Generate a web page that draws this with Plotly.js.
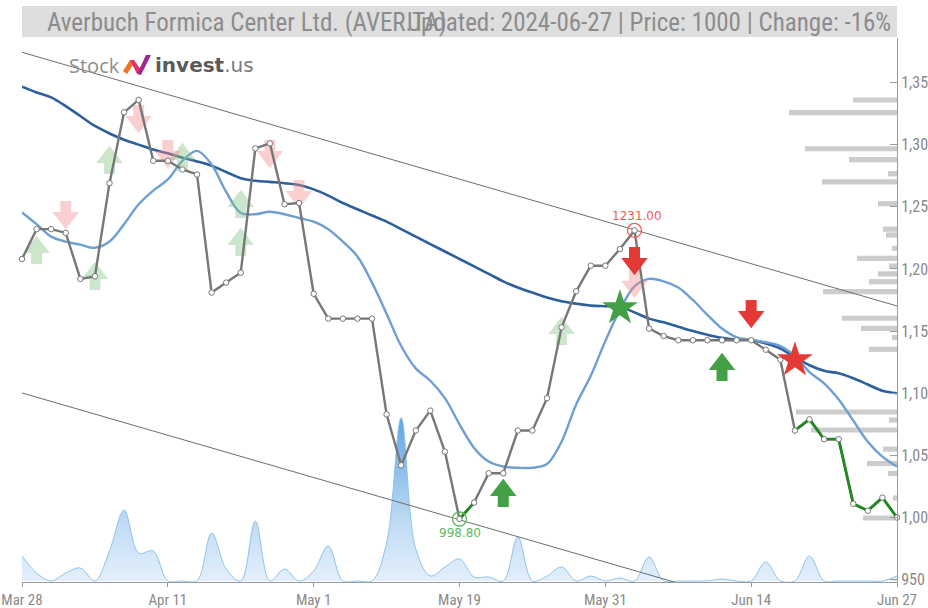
<!DOCTYPE html>
<html><head><meta charset="utf-8">
<script src="https://cdn.plot.ly/plotly-3.0.1.min.js"></script>
<style>html,body{margin:0;padding:0;background:#fff;}#chart{width:928px;height:608px;}</style>
</head><body><div id="chart"></div>
<script>
// ---------- data ----------
const tickLabels = ['Mar 28','Apr 11','May 1','May 19','May 31','Jun 14','Jun 27'];
const closes = [1208,1232,1232,1229,1192,1194,1269,1326,1336,1287,
  1287,1280,1276,1181,1189,1197,1297,1301,1252,1253,
  1180,1160,1160,1160,1160,1083,1042,1070,1086,1053,
  998.8,1012,1035.6,1035.6,1070,1070,1096,1153,1182,1202.6,
  1202.6,1216,1231,1152,1146,1142.6,1142.6,1142.6,1142.6,1142.6,
  1142.6,1135,1127,1070,1079,1063,1063,1011,1005.5,1016,1000];
const maShort = [1245.5,1236,1226,1222,1219.5,1217,1222,1236,1252,1263,
  1272,1287,1295,1284,1262,1245,1244,1246,1244,1241,
  1238,1232,1222,1210,1189,1164,1138,1120,1110,1096,
  1075,1056,1045,1041,1040,1040,1043,1061,1091,1114,
  1142,1167,1186,1192,1190,1185,1175,1163,1152,1145,
  1143,1141,1138,1130,1117,1108,1095,1078,1061,1049,1041];
const maLong = [1346.6,1342,1338,1331,1323,1315,1309,1304,1300,1296,
  1293,1289.5,1286.5,1283,1278,1273,1271,1270,1269,1267.5,
  1264,1259,1253,1248,1243,1238,1232,1226,1220,1214,
  1208,1202,1196,1190,1185,1181,1177,1174,1172,1170.5,
  1170,1169.5,1165,1160,1157,1153.5,1150,1147,1144.5,1143,
  1142.8,1140,1136,1129,1122.5,1118,1116,1112,1107,1102,1100];
const volume = [25,8,0,8,13,0,30,71,28,30,
  0,0,0,48,12,0,60,0,12,0,
  10,35,0,0,0,38,163,32,5,14,
  22,4,4,0,44,0,5,14,0,5,
  0,3,0,24,0,0,0,0,2,0,
  0,19,0,0,25,0,0,0,0,0,5];
const profilePrice = [1335.9,1325.8,1296.7,1288,1276.6,1270,1252.5,1232,1227.3,1216.6,
  1208.5,1202.3,1196,1189.7,1181.7,1160.3,1152.2,1144.8,1135.3,1084.9,
  1078.4,1070.4,1055,1043.4,1035.4,1015.7,999.6];
const profileVolume = [44,108,92,48,9,75,19,14,11,5,
  40,8,19,28,74,55,36,5,28,101,
  8,86,14,30,9,4,34];
const channelUpper = [1374.3, 1170.2];
const channelLower = [1100.2, 896.1];
const greenSegments = [[30,31],[53,60]];
const lowIdx = 30, highIdx = 42;
const fadedUpIdx = [1,5,6,11,15,15,37];
const fadedUpPrice = [1214.4,1193.5,1286.8,1289.2,1251.4,1220.8,1149.2];
const fadedDownIdx = [3,8,10,17,19,42];
const fadedDownPrice = [1244.2,1321.4,1293.3,1293.3,1261.1,1188.9];
const buyIdx = [33,48];
const buyPrice = [1018.9,1120.3];
const sellIdx = [42,50];
const sellPrice = [1207.2,1164.5];
const buyStarIdx = [41];
const buyStarPrice = [1168.5];
const sellStarIdx = [53];
const sellStarPrice = [1126.7];

// ---------- geometry ----------
const W = 928, H = 608;
const M = {l:22, r:31, t:38, b:26};
const plotW = W - M.l - M.r, plotH = H - M.t - M.b;
const n = closes.length;
const xRange = [0, n - 1];
const yRange = [948.1, 1385.8];
const volRange = [-1, plotH - 1];
const unitY = (yRange[1] - yRange[0]) / plotH;      // price units per px
const unitX = (xRange[1] - xRange[0]) / plotW;      // index units per px
const idx = closes.map((_, i) => i);
const FONT = '"Liberation Sans Narrow","Roboto Condensed","DejaVu Sans Condensed","Arial Narrow",sans-serif';

const traces = [];
// volume area (base subplot)
traces.push({x: idx, y: volume, xaxis:'x', yaxis:'y', type:'scatter', mode:'lines',
  line:{color:'#8cc3ec', width:1, shape:'spline', smoothing:1}, fill:'tozeroy',
  fillgradient:{type:'vertical', colorscale:[[0,'rgba(225,238,251,0.9)'],[0.35,'#c2dcf4'],[1,'#5ea6e2']]},
  hoverinfo:'skip', showlegend:false});
// volume profile bars
traces.push({type:'bar', orientation:'h', xaxis:'x', yaxis:'y2',
  y: profilePrice, x: profileVolume.map(v => -v * unitX), base: xRange[1],
  width: 5.2 * unitY, marker:{color:'#cccccc', line:{width:0}}, hoverinfo:'skip', showlegend:false});
// channel lines
[channelUpper, channelLower].forEach(c => traces.push({x:[xRange[0], xRange[1]], y:c, xaxis:'x', yaxis:'y2',
  mode:'lines', line:{color:'#6e6e6e', width:1}, hoverinfo:'skip', showlegend:false}));
// moving averages
traces.push({x: idx, y: maLong, xaxis:'x', yaxis:'y2', mode:'lines',
  line:{color:'#2d5f9c', width:2.6, shape:'spline', smoothing:1}, hoverinfo:'skip', showlegend:false});
traces.push({x: idx, y: maShort, xaxis:'x', yaxis:'y2', mode:'lines',
  line:{color:'#6e9fd3', width:2.4, shape:'spline', smoothing:1}, hoverinfo:'skip', showlegend:false});

function arrowTraces(ix, pr, color, dir) {
  const headOff = 3.75 * unitY * (dir === 'up' ? 1 : -1);
  const stemOff = 7.5 * unitY * (dir === 'up' ? -1 : 1);
  return [
    {x: ix, y: pr.map(p => p + stemOff), xaxis:'x', yaxis:'y2', mode:'markers', cliponaxis:false,
      marker:{symbol:'square', size:11, color:color, line:{width:0}}, hoverinfo:'skip', showlegend:false},
    {x: ix, y: pr.map(p => p + headOff), xaxis:'x', yaxis:'y2', mode:'markers', cliponaxis:false,
      marker:{symbol: dir === 'up' ? 'triangle-up' : 'triangle-down', size:23, color:color, line:{width:0}},
      hoverinfo:'skip', showlegend:false}
  ];
}
// faded signals (below price line)
traces.push(...arrowTraces(fadedUpIdx, fadedUpPrice, 'rgba(130,195,130,0.42)', 'up'));
traces.push(...arrowTraces(fadedDownIdx, fadedDownPrice, 'rgba(240,140,140,0.42)', 'down'));
// price line
traces.push({x: idx, y: closes, xaxis:'x', yaxis:'y2', mode:'lines',
  line:{color:'#777777', width:2.4}, hoverinfo:'skip', showlegend:false});
greenSegments.forEach(([a, b]) => traces.push({x: idx.slice(a, b + 1), y: closes.slice(a, b + 1),
  xaxis:'x', yaxis:'y2', mode:'lines', line:{color:'#1f8a1f', width:2.8}, hoverinfo:'skip', showlegend:false}));
traces.push({x: idx, y: closes, xaxis:'x', yaxis:'y2', mode:'markers', cliponaxis:false,
  marker:{symbol:'circle', size:5.5, color:'#ffffff', line:{color:'#777777', width:1}}, hoverinfo:'skip', showlegend:false});
// strong signals
traces.push(...arrowTraces(buyIdx, buyPrice, '#43a047', 'up'));
traces.push(...arrowTraces(sellIdx, sellPrice, '#e53935', 'down'));
traces.push({x: buyStarIdx, y: buyStarPrice, xaxis:'x', yaxis:'y2', mode:'markers',
  marker:{symbol:'star', size:27, color:'#43a047', line:{width:0}}, hoverinfo:'skip', showlegend:false});
traces.push({x: sellStarIdx, y: sellStarPrice, xaxis:'x', yaxis:'y2', mode:'markers',
  marker:{symbol:'star', size:27, color:'#e53935', line:{width:0}}, hoverinfo:'skip', showlegend:false});
// extreme circles
traces.push({x:[highIdx], y:[closes[highIdx]], xaxis:'x', yaxis:'y2', mode:'markers',
  marker:{symbol:'circle-open', size:14, color:'#f05a5a', line:{width:1.3}}, hoverinfo:'skip', showlegend:false});
traces.push({x:[lowIdx], y:[closes[lowIdx]], xaxis:'x', yaxis:'y2', mode:'markers',
  marker:{symbol:'circle-open', size:14, color:'#5cb85c', line:{width:1.3}}, hoverinfo:'skip', showlegend:false});

// ---------- logo ----------
function pxPath(pts) {
  return 'M' + pts.map(([x, y]) => (x - M.l) + ',' + (M.t - y)).join(' L') + ' Z';
}
const logoShapes = [
  {pts:[[123,71],[130,60],[134,63],[127,74]], c:'#f2711f'},
  {pts:[[130,60],[134,60],[141,70],[137,74]], c:'#e8306f'},
  {pts:[[137,74],[146,55],[151,55],[141,75]], c:'#9b2a8f'}
].map(s => ({type:'path', xref:'paper', yref:'paper', xsizemode:'pixel', ysizemode:'pixel',
  xanchor:0, yanchor:1, path: pxPath(s.pts), fillcolor:s.c, line:{width:0}}));

const px2paperX = px => (px - M.l) / plotW;
const px2paperY = py => 1 - (py - M.t) / plotH;

const layout = {
  width: W, height: H, margin: M, paper_bgcolor:'#ffffff', plot_bgcolor:'#ffffff',
  showlegend:false, font:{family:FONT, color:'#8a8a8a'},
  xaxis:{range:xRange, tickvals: tickLabels.map((_, k) => k * 10), ticktext: tickLabels,
    showgrid:false, zeroline:false, showline:true, linecolor:'#9a9a9a', linewidth:1,
    ticks:'outside', ticklen:4, tickcolor:'#9a9a9a', ticklabeloverflow:'allow',
    tickfont:{size:15, color:'#8a8a8a', family:FONT}},
  yaxis:{range:volRange, visible:false, fixedrange:true},
  yaxis2:{overlaying:'y', anchor:'x', side:'right', range:yRange, tick0:950, dtick:50, tickformat:',',
    showgrid:false, zeroline:false, showline:true, linecolor:'#9a9a9a', linewidth:1, ticklabeloverflow:'allow',
    ticks:'inside', ticklen:7, tickcolor:'#9a9a9a', tickfont:{size:16, color:'#8a8a8a', family:FONT}},
  shapes: [
    {type:'rect', xref:'paper', yref:'paper', x0:0, x1:1, y0:px2paperY(37), y1:px2paperY(6),
      fillcolor:'#dedede', line:{width:0}, layer:'below'}
  ].concat(logoShapes),
  annotations: [
    {xref:'paper', yref:'paper', x:px2paperX(45), y:px2paperY(22), xanchor:'left', yanchor:'middle',
      text:'Averbuch Formica Center Ltd. (AVER.TA)', showarrow:false, font:{size:25, color:'#8c8c8c', family:FONT}},
    {xref:'paper', yref:'paper', x:px2paperX(893), y:px2paperY(22), xanchor:'right', yanchor:'middle',
      text:'Updated: 2024-06-27 | Price: 1000 | Change: -16%', showarrow:false, font:{size:25, color:'#8c8c8c', family:FONT}},
    {xref:'paper', yref:'paper', x:px2paperX(67), y:px2paperY(65), xanchor:'left', yanchor:'middle',
      text:'Stock', showarrow:false, font:{size:20, color:'#8f8f8f', family:'"Open Sans","DejaVu Sans",sans-serif'}},
    {xref:'paper', yref:'paper', x:px2paperX(153), y:px2paperY(65), xanchor:'left', yanchor:'middle',
      text:'<b>invest</b><span style="color:#7a7a7a">.us</span>', showarrow:false,
      font:{size:20, color:'#5a5a5a', family:'"DejaVu Sans",sans-serif'}},
    {xref:'x', yref:'y2', x:highIdx, y:closes[highIdx], yshift:14, xshift:2, showarrow:false,
      text: closes[highIdx].toFixed(2), font:{size:12, color:'#f05a5a', family:'"DejaVu Sans",sans-serif'}},
    {xref:'x', yref:'y2', x:lowIdx, y:closes[lowIdx], yshift:-14, showarrow:false,
      text: closes[lowIdx].toFixed(2), font:{size:12, color:'#5cb85c', family:'"DejaVu Sans",sans-serif'}}
  ]
};
Plotly.newPlot('chart', traces, layout, {staticPlot:true, displayModeBar:false});
</script></body></html>
